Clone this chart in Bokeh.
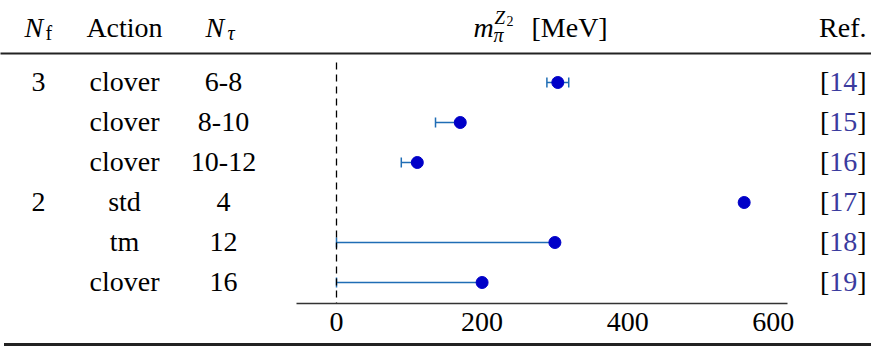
from bokeh.plotting import figure
from bokeh.layouts import column
from bokeh.models import (ColumnDataSource, Range1d, LinearAxis, FixedTicker,
                          Whisker, TeeHead, Div)
from bokeh.core.properties import value
from bokeh.embed import file_html
from bokeh.resources import INLINE

# ---------------- data ----------------
n_f = ["3", "", "", "2", "", ""]
actions = ["clover", "clover", "clover", "std", "tm", "clover"]
n_tau = ["6-8", "8-10", "10-12", "4", "12", "16"]
m_pi = [304, 170, 111, 560, 300, 200]
m_lo = [289, 136, 89, None, 0, 0]
m_hi = [319, 170, 111, None, 300, 200]
refs = ["14", "15", "16", "17", "18", "19"]
ticks = [0, 200, 400, 600]

# ---------------- layout helpers ----------------
W = 871
HEAD_FRAME = 53                # header band frame height (px)
TOP = 55                       # page y where the main figure starts
FRAME_BOTTOM = 303             # page y of the x axis line
H_TOTAL = 343
X0, SC = 336.0, 0.728          # x pixel of value 0, px per MeV
ROW0, ROWH = 82.0, 40.0        # y pixel of first row, row height
TXT = -11.0                    # empirical baseline correction (px)
FONT = value("Liberation Serif")


def px(x_pix):
    return (x_pix - X0) / SC


def py(y_pix):
    # rows go downwards: row r sits at y = -r
    return -(y_pix - ROW0) / ROWH


def bare(fig):
    fig.grid.visible = False
    fig.outline_line_color = None
    fig.background_fill_color = "white"
    fig.border_fill_color = "white"


def rule_axis(width):
    return LinearAxis(ticker=FixedTicker(ticks=[]),
                      axis_line_color="#222222", axis_line_width=width,
                      major_tick_line_color=None, minor_tick_line_color=None,
                      major_tick_in=0, major_tick_out=0,
                      major_label_text_font_size="0px")


rows = list(range(len(actions)))
row_y = [-r for r in rows]

# ================= header figure (its axis line is the header rule) =========
ph = figure(width=W, height=TOP, output_backend="svg", toolbar_location=None,
            x_axis_location=None, y_axis_location=None,
            x_range=Range1d(px(0), px(W)), y_range=Range1d(-HEAD_FRAME, 0),
            min_border_left=0, min_border_right=0, min_border_top=0,
            min_border_bottom=TOP - HEAD_FRAME)
bare(ph)
ph.add_layout(rule_axis(2.2), "below")


def htext(x, y_pix, t, size="28px", style="normal", align="left"):
    ph.text(x=[px(x)], y=[-(y_pix + TXT)], text=[t], text_font=FONT,
            text_font_size=size, text_font_style=style, text_align=align,
            text_color="black", text_baseline="alphabetic")


htext(24, 38, "N", style="italic")
htext(45, 43.5, "f", size="20px")
htext(124, 38, "Action", align="center")
htext(205, 38, "N", style="italic")
htext(227, 43.5, "τ", size="20px", style="italic")
htext(473, 38, "m", style="italic")
htext(493, 45, "π", size="20px", style="italic")
htext(494, 28, "Z", size="19px", style="italic")
htext(506, 31, "2", size="14px")
htext(531, 38, "[MeV]")
htext(866, 38, "Ref.", align="right")

# ================= main figure =================
p = figure(width=W, height=H_TOTAL - TOP, output_backend="svg",
           toolbar_location=None,
           x_axis_location=None, y_axis_location=None,
           x_range=Range1d(px(0), px(W)),
           y_range=Range1d(py(FRAME_BOTTOM), py(TOP)),
           min_border_left=0, min_border_right=0, min_border_top=0,
           min_border_bottom=H_TOTAL - FRAME_BOTTOM)
bare(p)

ax = LinearAxis(ticker=FixedTicker(ticks=ticks), bounds=(-55, 620),
                axis_line_color="#333333", axis_line_width=1.3,
                major_tick_line_color=None, minor_tick_line_color=None,
                major_tick_in=0, major_tick_out=0,
                major_label_text_font="Liberation Serif",
                major_label_text_font_size="28px",
                major_label_text_color="black",
                major_label_standoff=9)
p.add_layout(ax, "below")

# dashed zero line
p.segment(x0=[0], y0=[py(62)], x1=[0], y1=[py(FRAME_BOTTOM)],
          line_color="black", line_width=1.3, line_dash="7 5")

# error bars
err_rows = [r for r in rows if m_lo[r] is not None]
esrc = ColumnDataSource(dict(y=[row_y[r] for r in err_rows],
                             lo=[m_lo[r] for r in err_rows],
                             hi=[m_hi[r] for r in err_rows]))
ecol = "#1f6db5"
wh = Whisker(base="y", lower="lo", upper="hi", dimension="width", source=esrc,
             line_color=ecol, line_width=1.3, level="underlay",
             lower_head=TeeHead(size=10, line_color=ecol, line_width=1.5),
             upper_head=TeeHead(size=10, line_color=ecol, line_width=1.5))
p.add_layout(wh)

# points
p.scatter(x=m_pi, y=row_y, size=12, fill_color="#0000c8",
          line_color="#0000c8", line_width=1)

# table text
base = [y - (10 + TXT) / ROWH for y in row_y]
common = dict(text_font=FONT, text_font_size="28px", text_color="black",
              text_baseline="alphabetic")
p.text(x=[px(38)] * len(rows), y=base, text=n_f, text_align="center", **common)
p.text(x=[px(124)] * len(rows), y=base, text=actions, text_align="center", **common)
p.text(x=[px(223)] * len(rows), y=base, text=n_tau, text_align="center", **common)

RIGHT = 866
p.text(x=[px(RIGHT)] * len(rows), y=base, text=["]"] * len(rows),
       text_align="right", **common)
p.text(x=[px(RIGHT - 9.3)] * len(rows), y=base, text=refs,
       text_align="right", text_font=FONT, text_font_size="28px",
       text_color="#3b3b9e", text_baseline="alphabetic")
p.text(x=[px(RIGHT - 9.3 - 28)] * len(rows), y=base, text=["["] * len(rows),
       text_align="right", **common)

# bottom rule
bottom_rule = Div(width=W - 4, height=3,
                  styles={"background-color": "#222222", "margin": "0",
                          "margin-left": "4px", "padding": "0",
                          "font-size": "0", "line-height": "0",
                          "overflow": "hidden"})

layout = column(ph, p, bottom_rule, spacing=0)
open("out.html", "w").write(file_html(layout, INLINE))
